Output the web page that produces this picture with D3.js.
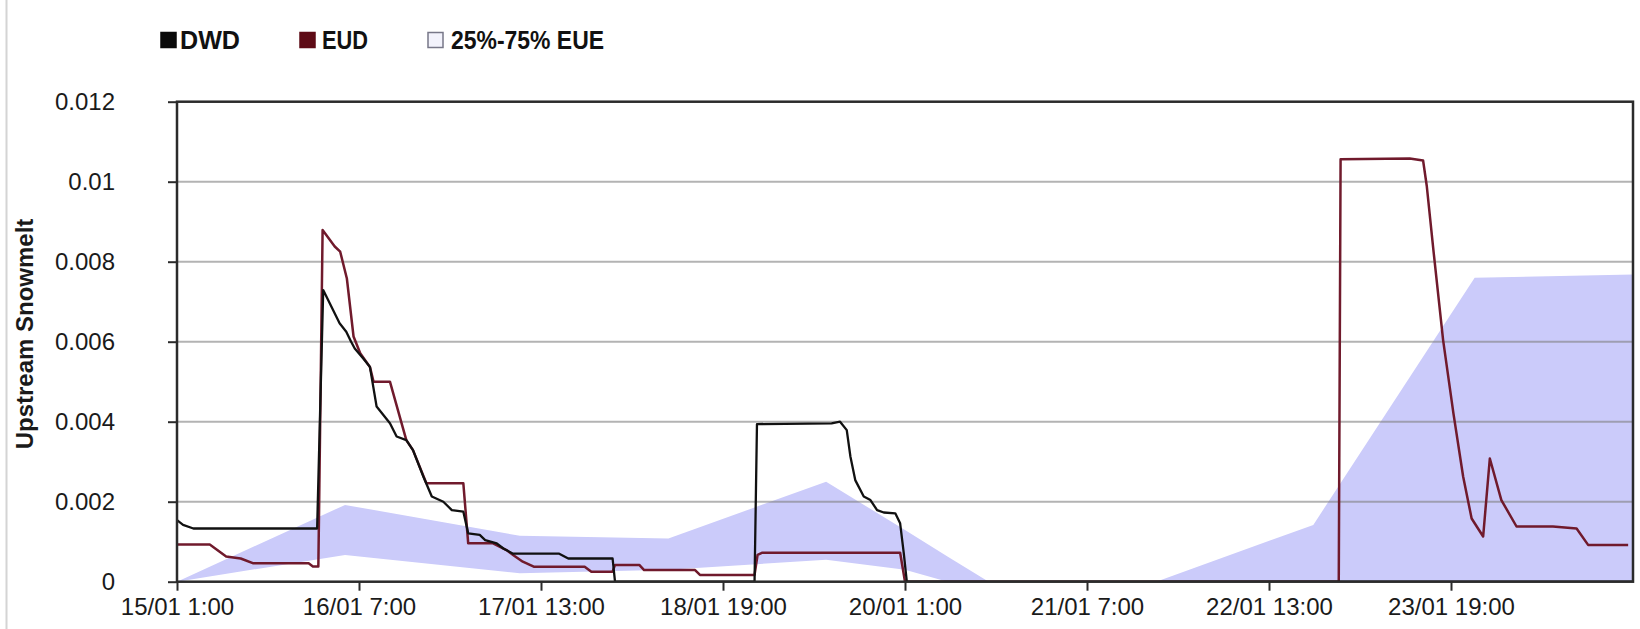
<!DOCTYPE html>
<html>
<head>
<meta charset="utf-8">
<script src="https://cdn.jsdelivr.net/npm/d3@7/dist/d3.min.js"></script>
<style>
  html, body { margin: 0; padding: 0; background: #ffffff; }
  svg { display: block; }
  text { font-family: "Liberation Sans", Arial, sans-serif; }
</style>
</head>
<body>
<svg id="chart" width="1640" height="629"></svg>
<script>
// ---------------- data (hours since 15/01 1:00) ----------------
const xTickHours  = [0, 30, 60, 90, 120, 150, 180, 210];
const xTickLabels = ["15/01 1:00", "16/01 7:00", "17/01 13:00", "18/01 19:00",
                     "20/01 1:00", "21/01 7:00", "22/01 13:00", "23/01 19:00"];
const yTickValues = [0, 0.002, 0.004, 0.006, 0.008, 0.01, 0.012];
const yTickLabels = ["0", "0.002", "0.004", "0.006", "0.008", "0.01", "0.012"];
const yAxisTitle  = "Upstream Snowmelt";
const legendLabels = ["DWD", "EUD", "25%-75% EUE"];

const dwdHours  = [0,1,2.7,23.1,24.1,26.8,27.9,28.7,29.3,30.7,31.8,32.9,35.1,36.2,37.8,38.9,40.6,42,43.9,45.3,47.2,48,49.9,50.8,52.7,53.8,55.4,63,64.5,71.8,72.2,95.2,95.6,107.9,109.3,110.4,111,111.8,113.2,114.3,115.4,116.5,118.4,119.2,119.8,120.3,240];
const dwdValues = [0.00154,0.00142,0.00133,0.00133,0.00729,0.00646,0.00625,0.006,0.00583,0.00558,0.00537,0.00438,0.00396,0.00363,0.00354,0.00329,0.00263,0.00213,0.002,0.00179,0.00175,0.00121,0.00117,0.00104,0.00096,0.00083,0.0007,0.0007,0.00058,0.00058,0,0,0.00394,0.00396,0.004,0.00379,0.00313,0.00254,0.00213,0.00204,0.00179,0.00173,0.00171,0.00146,0.00071,0,0];

const eudHours  = [0,5.4,8.1,10.5,12.6,21.7,22.4,23.3,24,26,26.9,28,29.1,30.2,31.8,32.4,35.1,37.8,38.9,41.1,47.2,48,52.1,54.3,55.4,57,58.8,67.2,68.3,71.8,72.2,76.2,77,85.4,86.2,95.2,95.7,96.5,119.2,120,191.5,191.8,203.2,205.4,206,207.1,208.7,210.4,212,213.4,215.3,216.4,218.3,220.8,226.8,230.7,232.6,239.2];
const eudValues = [0.00093,0.00093,0.00063,0.00058,0.00046,0.00046,0.00038,0.00038,0.00879,0.00838,0.00825,0.00758,0.00613,0.00571,0.00537,0.005,0.005,0.00354,0.00329,0.00246,0.00246,0.00096,0.00096,0.00079,0.00067,0.0005,0.000375,0.000375,0.00025,0.00025,0.00042,0.00042,0.00029,0.00029,0.00017,0.00017,0.00067,0.000725,0.000725,0,0,0.01056,0.01058,0.01053,0.0099,0.00829,0.00604,0.00421,0.00263,0.00158,0.00113,0.00308,0.00204,0.00138,0.00138,0.00133,0.00092,0.00092];

const bandHours = [0,27.7,56.5,81,107,120,127,133.8,161.4,187.3,213.9,240];
const bandLow   = [0,0.00067,0.00021,0.0003,0.00055,0.0003,0,0,0,0,0,0];
const bandHigh  = [0,0.00192,0.00115,0.00108,0.0025,0.00129,0.00063,0,0,0.00142,0.0076,0.00768];

// ---------------- layout ----------------
const plot = { left: 177, right: 1633, top: 101.7, bottom: 581.7 };
const colors = { dwd: "#111111", eud: "#701a2c", band: "#cbcbfa", grid: "#808080", axis: "#2b2b2b", text: "#1a1a1a" };

const svg = d3.select("#chart");
const x = d3.scaleLinear().domain([0, 240]).range([plot.left, plot.right]);
const y = d3.scaleLinear().domain([0, 0.012]).range([plot.bottom, plot.top]);

// outer chart frame (left edge visible)
svg.append("line").attr("x1", 6.5).attr("x2", 6.5).attr("y1", 0).attr("y2", 629)
   .attr("stroke", "#d4d4d4").attr("stroke-width", 2);

svg.append("clipPath").attr("id", "clip").append("rect")
   .attr("x", plot.left).attr("y", plot.top)
   .attr("width", plot.right - plot.left).attr("height", plot.bottom - plot.top);

const g = svg.append("g").attr("clip-path", "url(#clip)");

// band
const bandData = bandHours.map((h, i) => ({ h, lo: bandLow[i], hi: bandHigh[i] }));
g.append("path").datum(bandData)
  .attr("fill", colors.band)
  .attr("d", d3.area().x(d => x(d.h)).y0(d => y(d.lo)).y1(d => y(d.hi)));

// gridlines (drawn over the band, semi-transparent)
g.selectAll("line.grid").data(yTickValues.filter(v => v > 0 && v < 0.012)).enter()
  .append("line").attr("class", "grid")
  .attr("x1", plot.left).attr("x2", plot.right)
  .attr("y1", d => y(d)).attr("y2", d => y(d))
  .attr("stroke", colors.grid).attr("stroke-opacity", 0.6).attr("stroke-width", 2);

const line = d3.line().x(d => x(d.h)).y(d => y(d.v));
const eudData = eudHours.map((h, i) => ({ h, v: eudValues[i] }));
const dwdData = dwdHours.map((h, i) => ({ h, v: dwdValues[i] }));

g.append("path").datum(eudData)
  .attr("fill", "none").attr("stroke", colors.eud).attr("stroke-width", 2.5)
  .attr("stroke-linejoin", "round").attr("d", line);
g.append("path").datum(dwdData)
  .attr("fill", "none").attr("stroke", colors.dwd).attr("stroke-width", 2.3)
  .attr("stroke-linejoin", "round").attr("d", line);

// plot border
svg.append("rect")
  .attr("x", plot.left).attr("y", plot.top)
  .attr("width", plot.right - plot.left).attr("height", plot.bottom - plot.top)
  .attr("fill", "none").attr("stroke", colors.axis).attr("stroke-width", 2.5);

// axes
const yAxis = d3.axisLeft(y).tickValues(yTickValues)
  .tickFormat((d, i) => yTickLabels[i]).tickSize(9).tickPadding(53);
const gy = svg.append("g").attr("transform", `translate(${plot.left},0)`).call(yAxis);
gy.select(".domain").remove();
gy.selectAll(".tick line").attr("stroke", colors.axis).attr("stroke-width", 2);
gy.selectAll(".tick text").attr("fill", colors.text).style("font-size", "24px")
  .style("font-family", "'Liberation Sans', Arial, sans-serif");

const xAxis = d3.axisBottom(x).tickValues(xTickHours)
  .tickFormat((d, i) => xTickLabels[i]).tickSize(9).tickPadding(7);
const gx = svg.append("g").attr("transform", `translate(0,${plot.bottom})`).call(xAxis);
gx.select(".domain").remove();
gx.selectAll(".tick line").attr("stroke", colors.axis).attr("stroke-width", 2);
gx.selectAll(".tick text").attr("fill", colors.text).style("font-size", "24px")
  .style("font-family", "'Liberation Sans', Arial, sans-serif");

// y axis title
svg.append("text")
  .attr("transform", "translate(33,334) rotate(-90)")
  .attr("text-anchor", "middle")
  .attr("fill", colors.text)
  .style("font-size", "24px").style("font-weight", "bold")
  .text(yAxisTitle);

// legend
const legendItems = [
  { label: legendLabels[0], sx: 161, tx: 180, w: 60,  fill: "#0a0a0a", stroke: "#0a0a0a" },
  { label: legendLabels[1], sx: 300, tx: 322, w: 46,  fill: "#5e0b16", stroke: "#5e0b16" },
  { label: legendLabels[2], sx: 428, tx: 451, w: 153, fill: "#f2f2fb", stroke: "#777788" }
];
const lg = svg.append("g");
legendItems.forEach(it => {
  lg.append("rect").attr("x", it.sx).attr("y", 32.5).attr("width", 15).attr("height", 15)
    .attr("fill", it.fill).attr("stroke", it.stroke).attr("stroke-width", 1.5);
  lg.append("text").attr("x", it.tx).attr("y", 49)
    .attr("textLength", it.w).attr("lengthAdjust", "spacingAndGlyphs")
    .attr("fill", "#111").style("font-size", "25px").style("font-weight", "bold")
    .text(it.label);
});
</script>
</body>
</html>
